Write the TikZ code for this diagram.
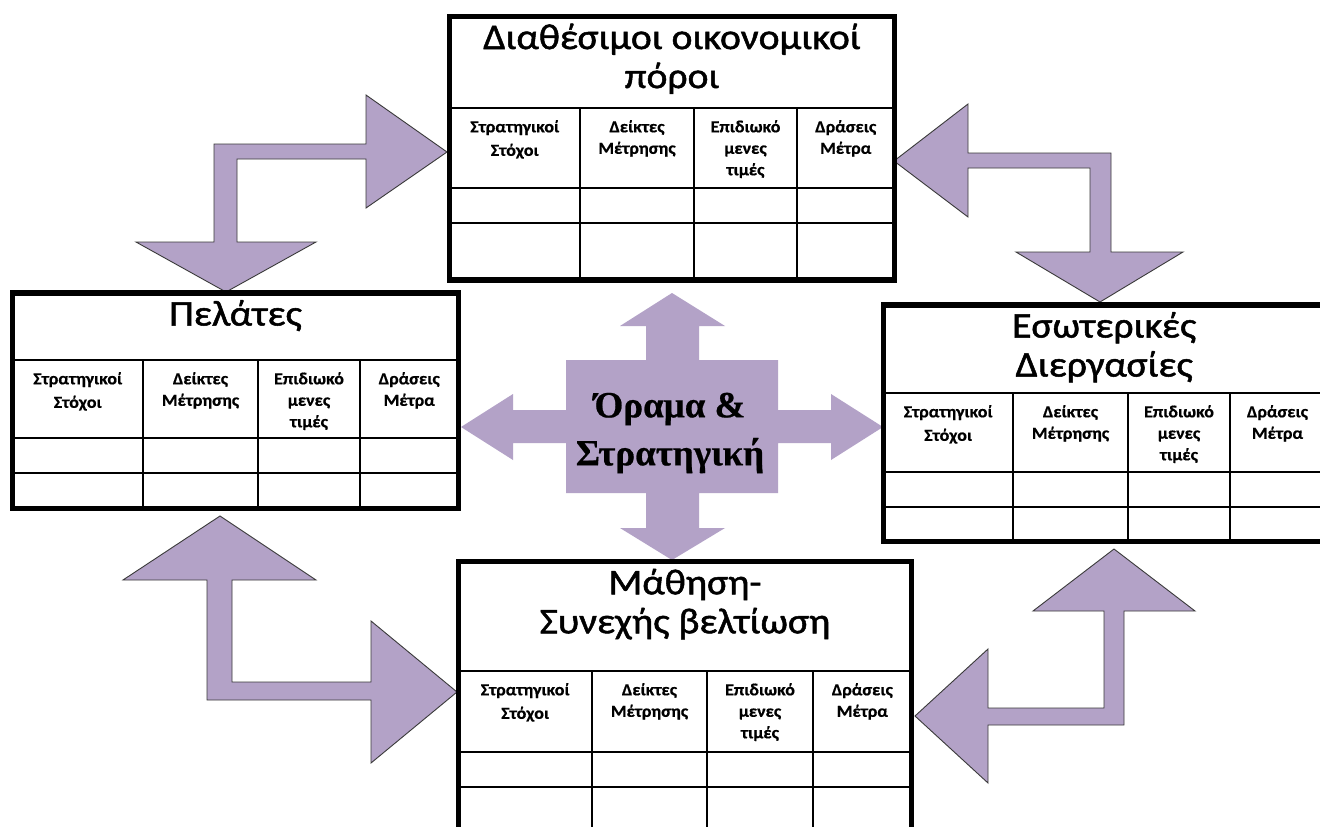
\documentclass[tikz,border=0pt]{standalone}
\usepackage{fontspec}
\setmainfont{Carlito}
\newfontfamily\titlefont[FakeStretch=1.1,FakeBold=1.4]{Carlito}
\newfontfamily\colfont[FakeStretch=1.06,FakeBold=0.6]{Carlito}
\newfontfamily\visionfont[FakeBold=0.6]{Liberation Serif}
\usetikzlibrary{fit}
\definecolor{arrowfill}{HTML}{B3A2C7}
\definecolor{arrowline}{HTML}{3A3A3A}
\tikzset{
  outerbox/.style={draw=black, line width=5.5pt, fill=white, inner sep=0pt, rectangle},
  gridline/.style={draw=black, line width=1.4pt},
  titletext/.style={font=\titlefont\fontsize{36}{39}\selectfont, align=center, inner sep=0pt, anchor=north},
  coltext/.style={font=\colfont\bfseries\fontsize{17}{21.5}\selectfont, align=center, inner sep=0pt, anchor=north},
  blockarrow/.style={fill=arrowfill, draw=arrowline, line width=0.9pt, line join=miter},
  crossarrow/.style={fill=arrowfill, draw=none},
  visiontext/.style={font=\visionfont\bfseries\fontsize{37}{48}\selectfont, align=center, inner sep=0pt}
}
\def\kpisplitc#1/#2/#3\relax{\def\kca{#1}\def\kcb{#2}\def\kcc{#3}}
\def\kpisplitr#1/#2\relax{\def\kra{#1}\def\krb{#2}}
% #1 name, #2 x1, #3 y1, #4 x2, #5 y2, #6 header line y, #7 columns, #8 rows, #9 title
\newcommand\kpibox[9]{%
  \kpisplitc#7\relax\kpisplitr#8\relax
  \node[outerbox, fit={(#2,#3) (#4,#5)}] (#1) {};
  \draw[gridline] (#2,#6) -- (#4,#6);
  \draw[gridline] (#2,\kra) -- (#4,\kra);
  \draw[gridline] (#2,\krb) -- (#4,\krb);
  \draw[gridline] (\kca,#6) -- (\kca,#5);
  \draw[gridline] (\kcb,#6) -- (\kcb,#5);
  \draw[gridline] (\kcc,#6) -- (\kcc,#5);
  \pgfmathsetmacro\kma{(#2+\kca)/2}
  \pgfmathsetmacro\kmb{(\kca+\kcb)/2}
  \pgfmathsetmacro\kmc{(\kcb+\kcc)/2}
  \pgfmathsetmacro\kmd{(\kcc+#4)/2}
  \pgfmathsetmacro\kty{#3+7}
  \pgfmathsetmacro\ktx{(#2+#4)/2}
  \pgfmathsetmacro\kcy{#6+12}
  \node[titletext] (#1-title) at (\ktx,\kty) {#9};
  \node[coltext] (#1-c1) at (\kma,\kcy) {Στρατηγικοί\\[2pt]Στόχοι};
  \node[coltext] (#1-c2) at (\kmb,\kcy) {Δείκτες\\Μέτρησης};
  \node[coltext] (#1-c3) at (\kmc,\kcy) {Επιδιωκό\\μενες\\τιμές};
  \node[coltext] (#1-c4) at (\kmd,\kcy) {Δράσεις\\Μέτρα};
}
\begin{document}
\begin{tikzpicture}[x=1pt,y=-1pt]
\useasboundingbox (0,0) rectangle (1320,827);
\clip (0,0) rectangle (1320,827);
\fill[white] (0,0) rectangle (1320,827);

% central cross arrow
\draw[crossarrow] (672,293) -- (725,326) -- (699,326) -- (699,360) -- (778,360) -- (778,410)
  -- (831,410) -- (831,394) -- (883,427) -- (831,460) -- (831,443) -- (778,443) -- (778,493)
  -- (699,493) -- (699,528) -- (725,528) -- (672,560) -- (620,528) -- (646,528) -- (646,493)
  -- (566,493) -- (566,443) -- (513,443) -- (513,460) -- (461,427) -- (513,394) -- (513,410)
  -- (566,410) -- (566,360) -- (646,360) -- (646,326) -- (620,326) -- cycle;
\node[visiontext] (vision) at (670,433) {Όραμα \&\\Στρατηγική};

% bent double arrows
\draw[blockarrow] (447,152) -- (366,208) -- (366,159) -- (237,159) -- (237,242) -- (316,242)
  -- (226,292) -- (136,242) -- (214,242) -- (214,144) -- (366,144) -- (366,95) -- cycle;
\draw[blockarrow] (894,161) -- (968,104) -- (968,153) -- (1111,153) -- (1111,252) -- (1183,252)
  -- (1100,302) -- (1016,252) -- (1090,252) -- (1090,168) -- (968,168) -- (968,217) -- cycle;
\draw[blockarrow] (220,516) -- (316,580) -- (232,580) -- (232,682) -- (371,682) -- (371,621)
  -- (457,692) -- (371,763) -- (371,700) -- (207,700) -- (207,580) -- (123,580) -- cycle;
\draw[blockarrow] (1114,549) -- (1195,611) -- (1124,611) -- (1124,725) -- (988,725) -- (988,783)
  -- (915,716) -- (988,649) -- (988,708) -- (1104,708) -- (1104,611) -- (1033,611) -- cycle;

% boxes
\kpibox{fin}{449.5}{16.5}{894.5}{280}{108}{580/694/797}{188/223}{Διαθέσιμοι οικονομικοί\\πόροι}
\kpibox{cust}{12.5}{293}{458.5}{508.5}{360}{143/258/360}{438/473}{Πελάτες}
\kpibox{proc}{883.3}{305}{1325}{541.7}{393}{1013/1128/1230}{472/507}{Εσωτερικές\\Διεργασίες}
\kpibox{learn}{458.3}{561.7}{911.7}{860}{671}{592/707/813}{752/787}{Μάθηση-\\Συνεχής βελτίωση}
\end{tikzpicture}
\end{document}
